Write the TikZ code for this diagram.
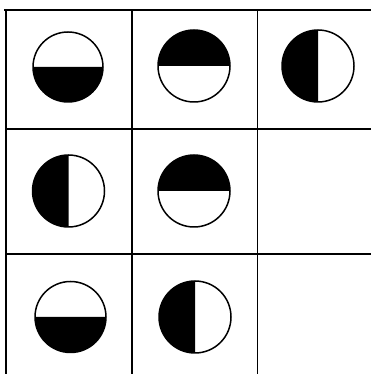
\documentclass[tikz,border=0pt]{standalone}
\usepackage{tikz}

\begin{document}
\begin{tikzpicture}[x=0.02cm, y=0.02cm, line cap=rect]
	\useasboundingbox (0,0) rectangle (370,374);
	
	% 网格
	\draw[line width=1.2pt] (5,364) -- (370,364);
	\draw[line width=1.2pt] (6,364) -- (6,0);
	\draw[line width=0.9pt] (132,364) -- (132,0);
	\draw[line width=0.9pt] (257.5,364) -- (257.5,0);
	\draw[line width=0.9pt] (6,245) -- (370,245);
	\draw[line width=0.9pt] (6,120) -- (370,120);
	
	% 第一行
	\fill (33,307) arc (180:360:35) -- cycle;
	\draw[line width=0.85pt] (68,307) circle (35);
	\fill (158,308) arc (180:0:36) -- cycle;
	\draw[line width=0.85pt] (194,308) circle (36);
	\fill (318,344) arc (90:270:36) -- cycle;
	\draw[line width=0.85pt] (318,308) circle (36);
	
	% 第二行
	\fill (68.5,219) arc (90:270:36) -- cycle;
	\draw[line width=0.85pt] (68.5,183) circle (36);
	\fill (158,183) arc (180:0:36) -- cycle;
	\draw[line width=0.85pt] (194,183) circle (36);
	
	% 第三行
	\fill (35,57) arc (180:360:35.5) -- cycle;
	\draw[line width=0.85pt] (70.5,57) circle (35.5);
	\fill (195,93) arc (90:270:36) -- cycle;
	\draw[line width=0.85pt] (195,57) circle (36);
\end{tikzpicture}
\end{document}
